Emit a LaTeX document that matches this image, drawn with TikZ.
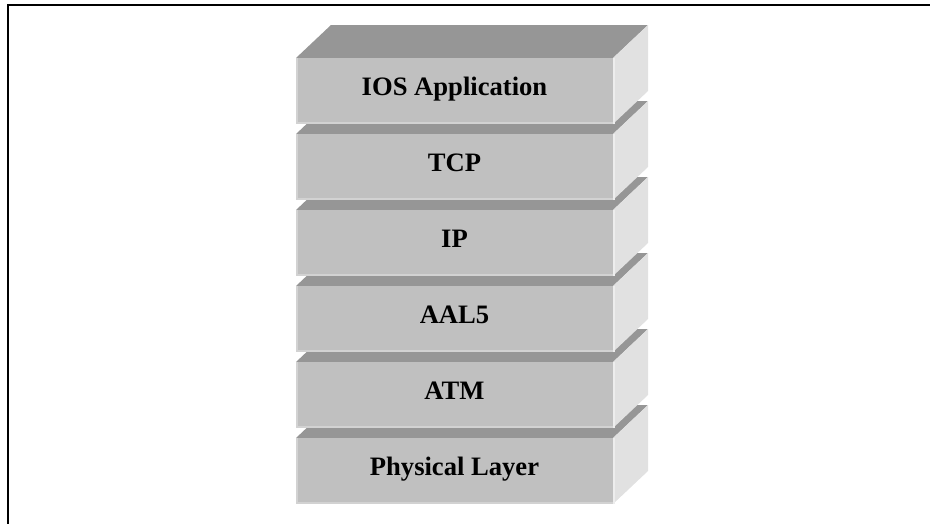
\documentclass[tikz,border=0pt]{standalone}
\usepackage{fontspec}
\setmainfont{Liberation Serif}
\definecolor{topgray}{HTML}{969696}
\definecolor{frontgray}{HTML}{C0C0C0}
\definecolor{frontedge}{HTML}{D2D2D2}
\definecolor{sidegray}{HTML}{E1E1E1}
\definecolor{sideedge}{HTML}{EDEDED}
\tikzset{
  layerlabel/.style={anchor=base, font=\bfseries\fontsize{26.6}{30}\selectfont, inner sep=0pt},
  frame/.style={line width=2pt, line cap=rect}
}
\begin{document}
\begin{tikzpicture}[x=1pt, y=-1pt]
\useasboundingbox (0,0) rectangle (930,523);
% page frame: top and left rules only
\draw[frame] (7.7,523) -- (7.7,5) -- (930,5);
% protocol stack, drawn from the bottom layer upwards so each slab covers the one below
\foreach \t/\txt/\nm in {438/Physical Layer/phys, 362/ATM/atm, 286/AAL5/aal, 210/IP/ip, 134/TCP/tcp, 58/IOS Application/ios}{
  % top face
  \fill[topgray] (296,\t) -- (331,\t-33) -- (648,\t-33) -- (613,\t) -- cycle;
  % right face
  \fill[sidegray] (613,\t) -- (648,\t-33) -- (648,\t+33) -- (613,\t+66) -- cycle;
  \draw[sideedge, line width=1.5pt] (614,\t) -- (614,\t+66);
  % front face with its light bevel on the left and bottom
  \fill[frontgray] (296,\t) rectangle (613,\t+66);
  \draw[frontedge, line width=1.5pt] (297,\t) -- (297,\t+65) -- (613,\t+65);
  \node[layerlabel] (\nm) at (454.5,\t+37) {\txt};
}
\end{tikzpicture}
\end{document}
